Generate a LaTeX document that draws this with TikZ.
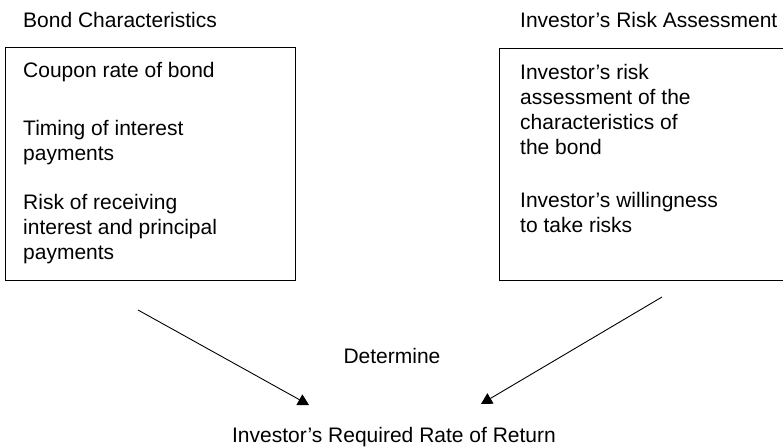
\documentclass[tikz,border=0pt]{standalone}
\usepackage{fontspec}
\setmainfont{Liberation Sans}
\usetikzlibrary{arrows.meta,positioning}

\begin{document}
\begin{tikzpicture}[x=1pt,y=-1pt,
	box/.style={draw,line width=0.9pt,inner sep=0pt,anchor=north west},
	txt/.style={inner sep=0pt,anchor=north west,align=left,font=\fontsize{21}{25}\selectfont},
	to/.style={-{Triangle[length=11pt,width=12pt]},line width=0.9pt}]
\useasboundingbox (0,0) rectangle (783,447);

\node[txt] (bondtitle) at (23,12.5) {Bond Characteristics};
\node[txt] (risktitle) at (520,12.5) {Investor’s Risk Assessment};

\node[box,minimum width=290pt,minimum height=233pt] (bond) at (5,47) {};
\node[box,minimum width=290pt,minimum height=232pt] (risk) at (499,48) {};

\node[txt] (coupon) at (23,62.5) {Coupon rate of bond};
\node[txt] (timing) at (23,120) {Timing of interest\\payments};
\node[txt] (receive) at (23,194.5) {Risk of receiving\\interest and principal\\payments};

\node[txt] (assess) at (520,64.5) {Investor’s risk\\assessment of the\\characteristics of\\the bond};
\node[txt] (willing) at (520,192.5) {Investor’s willingness\\to take risks};

\node[txt,anchor=center] (determine) at (392,355.5) {Determine};
\node[txt,anchor=base] (return) at (394,442) {Investor’s Required Rate of Return};

\coordinate (lstart) at (138,310);
\coordinate (lend) at (309,405);
\coordinate (rstart) at (662,297);
\coordinate (rend) at (481,404);

\draw[to] (lstart) -- (lend);
\draw[to] (rstart) -- (rend);

\end{tikzpicture}
\end{document}
